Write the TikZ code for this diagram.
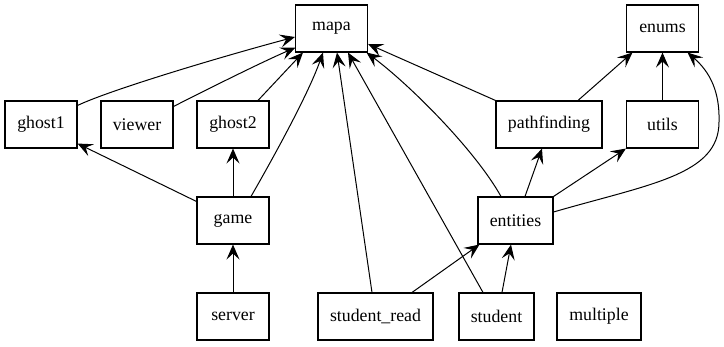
\documentclass[tikz,border=0pt]{standalone}
\usepackage{fontspec}
\setmainfont{Liberation Serif}
\usetikzlibrary{arrows.meta,calc}
\begin{document}
\begin{tikzpicture}[x=1pt,y=-1pt,
  mod/.style={draw, line width=1.1pt, minimum height=47pt, minimum width=72pt,
    inner sep=0pt, font=\fontsize{17.8}{20}\selectfont},
  dep/.style={line width=1pt, -{Stealth[length=15pt,width=13pt,inset=6pt]}}]

% canvas
\fill[white] (0,0) rectangle (724,347);
\useasboundingbox (0,0) rectangle (724,347);

% modules
\node[mod] (mapa) at (331.5,28.5) {mapa};
\node[mod] (enums) at (662.5,28.5) {enums};
\node[mod] (ghost1) at (41,124.5) {ghost1};
\node[mod] (viewer) at (137,124.5) {viewer};
\node[mod] (ghost2) at (233,124.5) {ghost2};
\node[mod, minimum width=106pt] (pathfinding) at (549,124.5) {pathfinding};
\node[mod] (utils) at (662.5,124.5) {utils};
\node[mod] (game) at (233,220.5) {game};
\node[mod, minimum width=75pt] (entities) at (515.5,220.5) {entities};
\node[mod] (server) at (233,316.5) {server};
\node[mod, minimum width=115pt] (studentread) at (375.5,316.5) {student\_read};
\node[mod, minimum width=75pt] (student) at (496.5,316.5) {student};
\node[mod, minimum width=84pt] (multiple) at (599,316.5) {multiple};

% turning point of the long entities -> enums edge
\coordinate (swing) at (719,122);

% dependencies on mapa
\draw[dep] ($(ghost1.north east)+(0,5)$) .. controls (110,90) and (220,57) .. ($(mapa.west)+(0,8.5)$);
\draw[dep] ($(viewer.north east)+(0,6)$) .. controls (210,88) and (260,63) .. ($(mapa.south west)+(0.5,-5)$);
\draw[dep] ($(ghost2.north)+(25,0)$) -- ($(mapa.south west)+(8,0)$);
\draw[dep] ($(game.north)+(18,0)$) .. controls (272,160) and (308,95) .. ($(mapa.south)+(-8.5,0)$);
\draw[dep] ($(studentread.north)+(-3.5,0)$) -- ($(mapa.south)+(5.5,0)$);
\draw[dep] ($(student.north)+(-13.5,0)$) -- ($(mapa.south)+(16.5,0)$);
\draw[dep] ($(entities.north)+(-14.5,0)$) .. controls (475,150) and (410,85) .. ($(mapa.south east)+(-1.5,0)$);
\draw[dep] (pathfinding.north west) -- ($(mapa.east)+(0,15.5)$);

% dependencies on enums
\draw[dep] ($(pathfinding.north)+(29,0)$) -- ($(enums.south west)+(6.5,0)$);
\draw[dep] (utils) -- (enums);
\draw[dep] ($(entities.east)+(0,-8.5)$) .. controls (650,184) and (719,175) .. (swing)
  .. controls (720,92) and (710,72) .. ($(enums.south east)+(-11.5,0)$);

% remaining dependencies
\draw[dep] ($(entities.north)+(9.5,0)$) -- ($(pathfinding.south)+(-7,0)$);
\draw[dep] (entities.north east) -- (utils.south west);
\draw[dep] ($(game.north west)+(0,5)$) -- ($(ghost1.south east)+(0,-5)$);
\draw[dep] (game) -- (ghost2);
\draw[dep] (server) -- (game);
\draw[dep] ($(studentread.north)+(36.5,0)$) -- ($(entities.south west)+(2,0)$);
\draw[dep] ($(student.north)+(5.5,0)$) -- ($(entities.south)+(-4.5,0)$);
\end{tikzpicture}
\end{document}
